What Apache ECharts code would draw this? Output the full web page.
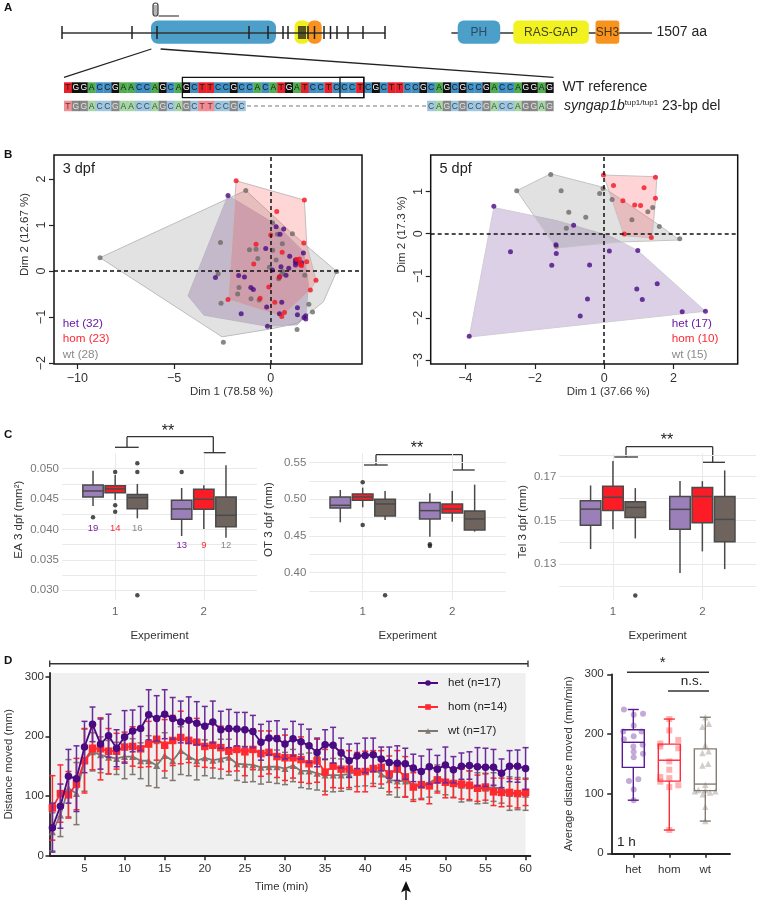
<!DOCTYPE html>
<html>
<head>
<meta charset="utf-8">
<style>html,body{margin:0;padding:0;background:#fff}#c{width:758px;height:903px}</style>
<script src="https://cdn.jsdelivr.net/npm/echarts@6/dist/echarts.min.js"></script>
</head>
<body>
<div id="c"></div>
<script>
// ---------- panel A sequences ----------
const seqWT  = "TGGACCGAACCAGCAGCTTCCGCCACATGATCCTCCCTCGCTTCCGCAGCGCCGACCAGGAG";
const seqDelLeft = "TGGACCGAACCAGCAGCTTCCGC";
const seqDelRight = "CAGCGCCGACCAGGAG";
const exonTicks = [62,132,157,249,268,283,288,299,301,303,305,308,314.5,324,330.5,337,348,363,385];

// ---------- panel B: 3 dpf ----------
const het3 = [[-2.21,1.64],[.28,.96],[.67,.91],[.48,.80],[-.26,.49],[1.69,.39],[.98,.32],[1.28,.24],[1.60,.18],[1.28,.13],[.53,.09],[.93,.06],[.09,.02],[.79,-.09],[-1.66,-.10],[-1.36,-.13],[-2.86,-.14],[-1.03,-.36],[-.90,-.40],[.57,-.68],[-.21,-.78],[1.38,-.80],[-1.53,-.93],[.45,-.93],[1.38,-.95],[1.81,-.97],[1.81,-1.04],[-.17,-1.20],[.45,-.13],[1.34,.19],[1.72,-1.01],[1.28,.19]];
const hom3 = [[-1.79,1.96],[1.74,1.54],[.31,1.29],[0,.78],[1.71,.61],[-.76,.58],[.59,.41],[1.48,.26],[1.34,.25],[1.86,.20],[-.88,.15],[1.60,.12],[2.34,-.20],[.45,-.13],[2.05,-.41],[-.10,-.35],[-2.21,-.62],[-.55,-.59],[.21,-.68],[.71,-.90],[.57,-.99],[1.52,.17],[1.55,.13]];
const wt3 = [[-1.29,1.75],[.09,1.05],[1.12,.81],[.34,.80],[-2.60,.62],[.60,.59],[-1.10,.46],[-.76,.47],[.10,.45],[-.67,.27],[.28,.24],[-.07,.08],[.62,-.01],[.57,-.07],[-2.72,-.06],[1.76,-.09],[3.41,-.01],[.41,-.17],[-1.64,-.36],[-1.71,-.50],[-1.02,-.60],[-.60,-.63],[-2.57,-.70],[1.97,-.72],[2.16,-.89],[1.36,-1.27],[-2.45,-1.55],[-8.83,.29]];
const hullWt3 = [[-8.83,.29],[-1.29,1.75],[1.12,.81],[3.41,-.01],[2.72,-.67],[1.34,-1.14],[-.03,-1.26],[-2.52,-1.43]];
const hullHet3 = [[-2.21,1.64],[.31,1.0],[1.69,.42],[1.95,-.30],[1.81,-.99],[1.36,-1.17],[-.17,-1.20],[-3.45,-.96],[-4.28,-.54]];
const hullHom3 = [[-1.79,1.96],[1.74,1.54],[1.86,.57],[2.34,-.20],[2.05,-.41],[.57,-.99],[-2.21,-.62]];

// ---------- panel B: 5 dpf ----------
const het5 = [[-3.18,.65],[-.88,.20],[-1.39,-.26],[-2.70,-.43],[-1.38,-.47],[.15,-.41],[.97,-.40],[-1.51,-.75],[-.42,-.74],[1.53,-1.19],[.94,-1.31],[1.10,-1.56],[-.48,-1.55],[-.69,-1.95],[2.25,-1.85],[2.92,-1.84],[-3.89,-2.43]];
const hom5 = [[-.02,1.39],[1.48,1.34],[.27,1.14],[1.15,1.09],[1.48,.84],[.54,.78],[.88,.68],[1.05,.67],[.58,-.01],[1.36,-.09]];
const wt5 = [[-1.54,1.40],[-2.52,1.02],[-1.24,1.02],[-.03,1.07],[-.13,.95],[.23,.81],[-1.02,.51],[-.53,.39],[1.40,.62],[1.26,.52],[.80,.33],[1.59,.17],[-1.09,.13],[2.18,-.12],[-1.38,-.30]];
const hullHet5 = [[-3.18,.62],[-1.38,.31],[.15,-.05],[.97,-.40],[2.92,-1.84],[-3.89,-2.45]];
const hullHom5 = [[-.02,1.39],[1.52,1.35],[1.48,.80],[1.38,-.10],[.58,-.05]];
const hullWt5 = [[-1.54,1.42],[-.03,1.10],[1.59,.2],[2.18,-.15],[.4,-.2],[-1.38,-.34],[-2.52,1.02]];

// ---------- panel C: [x, low, q1, median, q3, high] per genotype ----------
const eaHet = [[.75,.04386,.04534,.04633,.04731,.04967],[1.75,.03893,.04167,.04337,.04479,.04682]];
const eaHom = [[1,.04485,.04605,.04666,.04720,.04896],[2,.04008,.04331,.04496,.0466,.04726]];
const eaWt  = [[1.25,.04183,.04342,.04523,.04573,.04748],[2.25,.03866,.04046,.04233,.04534,.05055]];
const eaOut = [[.75,.0420],[1,.04945],[1,.04397],[1,.04293],[1.25,.05088],[1.25,.04945],[1.25,.02918],[1.75,.04945]];
const eaCounts = [[.75,.0402,19],[1,.0402,14],[1.25,.0402,16],[1.75,.03734,13],[2,.03734,9],[2.25,.03734,12]];
const otHet = [[.75,.4686,.4882,.4918,.5032,.5127],[1.75,.4491,.4732,.4845,.4955,.5082]];
const otHom = [[1,.4891,.4986,.5032,.5073,.5159],[2,.4695,.4814,.4868,.4936,.5114]];
const otWt  = [[1.25,.4718,.4773,.4936,.5000,.5114],[2.25,.4559,.4582,.4732,.4841,.5200]];
const otOut = [[1,.5232],[1,.4650],[1.25,.3691],[1.75,.4386],[1.75,.4364]];
const telHet = [[.75,.1370,.1478,.1552,.1590,.1660],[1.75,.1260,.1460,.1551,.1610,.1680]];
const telHom = [[1,.1460,.1546,.1606,.1656,.1772],[2,.1359,.1490,.1610,.1651,.1680]];
const telWt  = [[1.25,.1418,.1514,.1560,.1586,.1648],[2.25,.1278,.1403,.1505,.1610,.1729]];
const telOut = [[1.25,.1158]];

// ---------- panel D: time course ----------
const hetMean = [47,83,133,129,182,220,187,201,180,199,209,213,236,230,237,230,224,227,222,217,224,211,213,212,211,208,190,197,196,187,196,191,184,173,186,185,172,159,167,168,169,162,156,155,154,147,141,149,145,152,144,150,151,149,148,148,138,150,150,146];
const hetErr  = [41,37,45,55,43,29,42,36,31,44,35,37,42,38,41,35,35,39,36,33,35,31,32,28,29,27,30,28,30,25,29,29,28,24,25,30,25,28,21,29,28,20,26,29,26,23,26,29,23,30,22,22,23,32,32,30,24,26,27,35];
const homMean = [80,104,102,120,159,180,179,175,175,182,183,179,187,195,185,193,198,193,190,183,185,181,175,178,174,178,171,173,166,164,164,161,154,159,140,150,145,145,140,141,146,148,137,145,132,115,119,117,127,123,121,120,118,113,115,107,106,106,104,106];
const homErr  = [54,48,39,43,54,36,52,38,30,25,33,31,38,35,43,42,44,37,40,35,38,36,34,36,40,34,38,36,35,38,34,38,33,36,38,36,32,31,33,34,30,28,30,31,34,24,25,30,22,26,24,25,24,22,22,23,24,23,24,22];
const wtMean  = [40,68,113,104,160,174,169,165,163,166,166,159,159,151,168,159,176,166,159,164,160,162,165,154,153,152,148,149,149,146,151,142,142,138,135,135,135,137,141,142,145,137,127,125,125,118,118,122,130,126,122,118,117,113,113,115,112,104,104,103];
const wtErr   = [32,36,48,52,52,32,30,28,27,37,30,30,42,37,38,33,40,32,32,30,30,33,30,28,30,28,28,26,28,27,27,28,30,28,27,28,27,26,25,25,24,24,25,27,26,24,22,24,22,24,24,28,25,26,25,24,24,28,27,27];
const minutes = hetMean.map((_, i) => i + 1);

// ---------- panel D: average distance ----------
const avgHet = [[1,89,144,186,207,241]];
const avgHom = [[2,39,121,156,183,225]];
const avgWt  = [[3,54,105,116,175,228]];
const avgHetPts = [[.74,241],[1.01,232],[1.27,234],[1.01,214],[.72,204],[1.23,204],[1.01,196],[.74,191],[1,179],[1.26,182],[1.01,170],[1.27,167],[1.01,161],[.88,121],[1.14,124],[1.01,107],[1.01,89]];
const avgHomPts = [[2,225],[2,206],[1.75,184],[2.25,190],[2.25,176],[2,154],[1.75,179],[2,140],[2,126],[1.75,120],[2.25,114],[2,111],[1.75,128],[2,39]];
const avgWtPts = [[2.92,212],[3.10,217],[3,228],[3,181],[2.92,168],[3.09,171],[2.92,147],[3.08,150],[3,115],[2.71,104],[3.28,104],[2.81,106],[3,106],[2.93,99],[3.13,102],[3,78],[3,54]];
const avgNames = ['het','hom','wt'];

// ---------- colours ----------
const FONT = 'Liberation Sans';
const PURPLE = '#4a0a82', RED = '#fb1c2a', GREY = '#6f6a66';
const grids = [], xAxes = [], yAxes = [], series = [], graphic = [];

function addGrid(left, top, right, bottom, extra) {
  grids.push(Object.assign({left, top, width: right - left, height: bottom - top, containLabel: false, outerBoundsMode: 'none'}, extra || {}));
  return grids.length - 1;
}
function hullSeries(g, pts, fill, stroke) {
  series.push({type: 'custom', xAxisIndex: g, yAxisIndex: g, silent: true, clip: false, z: 2,
    data: [pts[0]], encode: {x: 0, y: 1},
    renderItem: (p, api) => ({type: 'polygon', shape: {points: pts.map(q => api.coord(q))},
      style: {fill, stroke, lineWidth: 1}})});
}
function dots(g, data, color, size, extra) {
  series.push(Object.assign({type: 'scatter', xAxisIndex: g, yAxisIndex: g, data, symbolSize: size, silent: true,
    itemStyle: {color}, z: 4}, extra || {}));
}
function pcaPanel(box, title, xr, yr, xt, yt, xn, yn) {
  const g = addGrid(box[0], box[1], box[2], box[3], {show: true, borderColor: '#111', borderWidth: 1.5, backgroundColor: 'transparent'});
  const fmt = v => String(v).replace('-', '\u2212');
  xAxes.push({gridIndex: g, type: 'value', min: xr[0], max: xr[1], splitLine: {show: false}, axisLine: {show: false, onZero: false},
    axisTick: {length: 5, lineStyle: {color: '#222', width: 1.2}, customValues: xt},
    axisLabel: {customValues: xt, formatter: fmt, fontFamily: FONT, fontSize: 12.5, color: '#333', margin: 8},
    name: xn[0], nameLocation: 'middle', nameGap: 19, nameTextStyle: {fontFamily: FONT, fontSize: 11.5, color: '#333', padding: xn[1]}});
  yAxes.push({gridIndex: g, type: 'value', min: yr[0], max: yr[1], splitLine: {show: false}, axisLine: {show: false, onZero: false},
    axisTick: {length: 5, lineStyle: {color: '#222', width: 1.2}, customValues: yt},
    axisLabel: {customValues: yt, formatter: fmt, rotate: 90, fontFamily: FONT, fontSize: 12.5, color: '#333', margin: 6},
    name: yn[0], nameLocation: 'middle', nameGap: 23, nameTextStyle: {fontFamily: FONT, fontSize: 11.5, color: '#333', padding: yn[1]}});
  return g;
}
const gB1 = pcaPanel([54,155,362,364], '3 dpf', [-11.21,4.72], [-2.02,2.52], [-10,-5,0], [-2,-1,0,1,2], ['Dim 1 (78.58 %)',[0,0,0,47]], ['Dim 2 (12.67 %)',[0,0,0,50]]);
hullSeries(gB1, hullWt3, 'rgba(150,150,150,.28)', '#bdbdbd');
hullSeries(gB1, hullHet3, 'rgba(85,40,125,.22)', '#bdb7c2');
hullSeries(gB1, hullHom3, 'rgba(255,50,50,.2)', '#c4bcbc');
dots(gB1, wt3, '#6d6966', 5); dots(gB1, het3, PURPLE, 5); dots(gB1, hom3, '#f3141f', 5, {
  markLine: {silent: true, symbol: 'none', label: {show: false}, animation: false, z: 5,
    lineStyle: {color: '#111', type: [4,3], width: 1.5}, data: [{xAxis: 0}, {yAxis: 0}]}});
const gB2 = pcaPanel([430.7,155,737.7,364], '5 dpf', [-5.0,3.85], [-3.09,1.865], [-4,-2,0,2], [-3,-2,-1,0,1], ['Dim 1 (37.66 %)',[0,0,0,48]], ['Dim 2 (17.3 %)',[0,0,0,50]]);
hullSeries(gB2, hullHet5, 'rgba(90,40,140,.22)', '#d2cdd6');
hullSeries(gB2, hullWt5, 'rgba(120,120,120,.22)', '#c4c4c4');
hullSeries(gB2, hullHom5, 'rgba(255,40,50,.2)', '#c9c0c0');
dots(gB2, wt5, '#6d6966', 5); dots(gB2, het5, PURPLE, 5); dots(gB2, hom5, '#f3141f', 5, {
  markLine: {silent: true, symbol: 'none', label: {show: false}, animation: false, z: 5,
    lineStyle: {color: '#111', type: [4,3], width: 1.5}, data: [{xAxis: 0}, {yAxis: 0}]}});

// ---------- box series (C panels and D right) ----------
function boxSeries(g, rows, opt) {
  series.push({type: 'custom', xAxisIndex: g, yAxisIndex: g, silent: true, z: 3, clip: false, data: rows,
    encode: {x: 0, y: [1,2,3,4,5]},
    renderItem: (p, api) => {
      const x = api.value(0), c = k => api.coord([x, api.value(k)]);
      const l = c(1), a = c(2), m = c(3), b = c(4), h = c(5);
      const hw = api.size([opt.width, 0])[0] / 2;
      const ln = (x1,y1,x2,y2,w) => ({type: 'line', shape: {x1,y1,x2,y2}, style: {stroke: opt.stroke, lineWidth: w || opt.lw}});
      const kids = [ln(l[0],l[1],a[0],a[1]), ln(h[0],h[1],b[0],b[1]),
        {type: 'rect', shape: {x: a[0]-hw, y: b[1], width: 2*hw, height: a[1]-b[1]},
         style: {fill: opt.fill, stroke: opt.stroke, lineWidth: opt.lw}},
        ln(m[0]-hw,m[1],m[0]+hw,m[1])];
      if (opt.cap) kids.push(ln(l[0]-opt.cap,l[1],l[0]+opt.cap,l[1]), ln(h[0]-opt.cap,h[1],h[0]+opt.cap,h[1]));
      return {type: 'group', children: kids};
    }});
}
function minimalPanel(box, xr, yr, minor, major, yName, yShift, yGap, labelPad) {
  const g = addGrid(box[0], box[1], box[2], box[3]);
  const line = {show: true, lineStyle: {color: '#e9e9e9', width: 1}};
  xAxes.push({gridIndex: g, type: 'value', min: xr[0], max: xr[1], axisLine: {show: false, onZero: false},
    axisTick: {show: false, customValues: [1,2]}, splitLine: line,
    axisLabel: {customValues: [1,2], fontFamily: FONT, fontSize: 11.5, color: '#666', margin: 6},
    name: 'Experiment', nameLocation: 'middle', nameGap: 30, nameTextStyle: {fontFamily: FONT, fontSize: 11.5, color: '#333'}});
  yAxes.push({gridIndex: g, type: 'value', min: yr[0], max: yr[1], axisLine: {show: false, onZero: false},
    axisTick: {show: false, customValues: minor}, splitLine: line,
    axisLabel: {customValues: major, formatter: labelPad.fmt, fontFamily: FONT, fontSize: 11.5, color: '#777', margin: 3, padding: [0,0,labelPad.pad,0]},
    name: yName, nameLocation: 'middle', nameGap: yGap, nameTextStyle: {fontFamily: FONT, fontSize: 11.5, color: '#333', padding: yShift}});
  return g;
}
const cFill = ['#9a7fb9', '#fb1c26', '#6e635d'];
function cBoxes(g, het, hom, wt, out) {
  [het, hom, wt].forEach((rows, i) => boxSeries(g, rows, {width: .23, fill: cFill[i], stroke: '#4a4a4a', lw: 1.5}));
  dots(g, out, '#222', 4.5);
}
const gC1 = minimalPanel([62,453.3,257,600], [.4,2.6], [.02841,.05252],
  [.03,.0325,.035,.0375,.04,.0425,.045,.0475,.05], [.03,.035,.04,.045,.05],
  'EA 3 dpf (mm\u00B2)', [0,0,0,14], 37, {pad: 5, fmt: v => v.toFixed(3)});
cBoxes(gC1, eaHet, eaHom, eaWt, eaOut);
series.push({type: 'custom', xAxisIndex: gC1, yAxisIndex: gC1, silent: true, z: 5, data: eaCounts, encode: {x: 0, y: 1},
  renderItem: (p, api) => { const c = api.coord([api.value(0), api.value(1)]);
    return {type: 'text', style: {x: c[0], y: c[1], text: String(api.value(2)), align: 'center', verticalAlign: 'middle',
      fontFamily: FONT, fontSize: 9.5, fill: ['#7a1fa2','#fb2a35','#888'][p.dataIndex % 3]}}; }});
const gC2 = minimalPanel([309.3,453.3,506,600], [.404,2.6], [.3627,.5627],
  [.375,.4,.425,.45,.475,.5,.525,.55], [.4,.45,.5,.55],
  'OT 3 dpf (mm)', [0,0,0,14], 34, {pad: 5, fmt: v => v.toFixed(2)});
cBoxes(gC2, otHet, otHom, otWt, otOut);
const gC3 = minimalPanel([559.3,453.3,756,600], [.4,2.6], [.1137,.1807],
  [.12,.13,.14,.15,.16,.17,.18], [.13,.15,.17],
  'Tel 3 dpf (mm)', [0,0,0,10], 30, {pad: 6, fmt: v => v.toFixed(2)});
cBoxes(gC3, telHet, telHom, telWt, telOut);

// ---------- D line panel ----------
const gD = addGrid(50, 673, 530.4, 855.7);
const dAxisLine = {show: true, onZero: false, lineStyle: {color: '#222', width: 1.8}};
const dTick = {length: 4.5, lineStyle: {color: '#222', width: 1.5}};
xAxes.push({gridIndex: gD, type: 'value', min: .7, max: 60.6, splitLine: {show: false}, axisLine: dAxisLine,
  axisTick: Object.assign({customValues: [5,10,15,20,25,30,35,40,45,50,55,60]}, dTick),
  axisLabel: {customValues: [5,10,15,20,25,30,35,40,45,50,55,60], fontFamily: FONT, fontSize: 11.5, color: '#333', margin: 7}});
yAxes.push({gridIndex: gD, type: 'value', min: 0, max: 306, splitLine: {show: false}, axisLine: dAxisLine,
  axisTick: Object.assign({customValues: [0,100,200,300]}, dTick),
  axisLabel: {customValues: [0,100,200,300], fontFamily: FONT, fontSize: 11.5, color: '#333', margin: 6},
  name: 'Distance moved (mm)', nameLocation: 'middle', nameGap: 31, nameTextStyle: {fontFamily: FONT, fontSize: 11.3, color: '#333', padding: [0,0,0,0]}});
series.push({type: 'custom', xAxisIndex: gD, yAxisIndex: gD, silent: true, z: 0, data: [[.7,0]], encode: {x: 0, y: 1},
  renderItem: (p, api) => { const a = api.coord([.7,306]), b = api.coord([60,0]);
    return {type: 'rect', shape: {x: a[0], y: a[1], width: b[0]-a[0], height: b[1]-a[1]}, style: {fill: '#f0f0f0'}}; }});
function errSeries(mean, err, color, z) {
  series.push({type: 'custom', xAxisIndex: gD, yAxisIndex: gD, silent: true, z, clip: false,
    data: minutes.map((m, i) => [m, mean[i]-err[i], mean[i]+err[i]]), encode: {x: 0, y: [1,2]},
    renderItem: (p, api) => {
      const a = api.coord([api.value(0), api.value(1)]), b = api.coord([api.value(0), api.value(2)]);
      const st = {stroke: color, lineWidth: 1.5};
      return {type: 'group', children: [
        {type: 'line', shape: {x1: a[0], y1: a[1], x2: b[0], y2: b[1]}, style: st},
        {type: 'line', shape: {x1: a[0]-3, y1: a[1], x2: a[0]+3, y2: a[1]}, style: st},
        {type: 'line', shape: {x1: b[0]-3, y1: b[1], x2: b[0]+3, y2: b[1]}, style: st}]};
    }});
}
function meanLine(name, mean, color, symbol, size, z) {
  series.push({type: 'line', name, xAxisIndex: gD, yAxisIndex: gD, silent: true, z, symbol, symbolSize: size, showSymbol: true,
    data: minutes.map((m, i) => [m, mean[i]]), lineStyle: {color, width: 1.8}, itemStyle: {color}});
}
errSeries(wtMean, wtErr, '#7f7870', 3); meanLine('wt (n=17)', wtMean, '#7f7870', 'triangle', 7, 4);
errSeries(homMean, homErr, '#ff2a30', 5); meanLine('hom (n=14)', homMean, '#ff2a30', 'rect', 7.5, 6);
errSeries(hetMean, hetErr, '#6a2a9c', 7); meanLine('het (n=17)', hetMean, '#4a0a82', 'circle', 7.5, 8);

// ---------- D average panel ----------
const gE = addGrid(611.7, 674.3, 730, 853.3);
xAxes.push({gridIndex: gE, type: 'value', min: .4, max: 3.686, splitLine: {show: false}, axisLine: dAxisLine,
  axisTick: Object.assign({customValues: [1,2,3]}, dTick),
  axisLabel: {customValues: [1,2,3], formatter: v => avgNames[v-1], fontFamily: FONT, fontSize: 11.5, color: '#333', margin: 11}});
yAxes.push({gridIndex: gE, type: 'value', min: 0, max: 300, splitLine: {show: false}, axisLine: dAxisLine,
  axisTick: Object.assign({customValues: [0,100,200,300]}, dTick),
  axisLabel: {customValues: [0,100,200,300], fontFamily: FONT, fontSize: 11.5, color: '#333', margin: 8},
  name: 'Average distance moved (mm/min)', nameLocation: 'middle', nameGap: 37, nameTextStyle: {fontFamily: FONT, fontSize: 11.3, color: '#333'}});
dots(gE, avgHetPts, 'rgba(106,42,156,.5)', 6);
dots(gE, avgHomPts, 'rgba(255,42,48,.45)', 6, {symbol: 'rect'});
dots(gE, avgWtPts, 'rgba(127,120,112,.45)', 6.5, {symbol: 'triangle'});
boxSeries(gE, avgHet, {width: .61, fill: 'transparent', stroke: '#5a1a94', lw: 1.4, cap: 5.5});
boxSeries(gE, avgHom, {width: .61, fill: 'transparent', stroke: '#ff2a38', lw: 1.4, cap: 5.5});
boxSeries(gE, avgWt, {width: .61, fill: 'transparent', stroke: '#857d75', lw: 1.4, cap: 5.5});

// ---------- annotations ----------
function gl(x1, y1, x2, y2, color, w) {
  graphic.push({type: 'line', silent: true, shape: {x1,y1,x2,y2}, style: {stroke: color || '#222', lineWidth: w || 1.3}});
}
function gt(x, y, text, size, opt) {
  graphic.push({type: 'text', silent: true, x, y, rotation: (opt && opt.rot) || 0, style: Object.assign({text, fontFamily: FONT, fontSize: size,
    fill: '#222', align: 'left', verticalAlign: 'middle'}, opt && opt.style)});
}
function grect(x, y, w, h, fill, r) {
  graphic.push({type: 'rect', silent: true, shape: {x, y, width: w, height: h, r: r || 0}, style: {fill}});
}
// panel letters
[['A',7,8],['B',7,155],['C',7,435],['D',7,661]].forEach(a => gt(a[1]-3, a[2], a[0], 11.5, {style: {fontWeight: 'bold', fill: '#111'}}));
// gene model
grect(151,20.5,125,23.2,'#4b9fc9',7);
grect(294.6,20.5,15,23.2,'#f2ef1f',6);
grect(307.7,20.5,14,23.2,'#f7931e',6);
gl(62,33,385,33,'#333',1.3);
exonTicks.forEach(x => gl(x,26,x,39,'#222',1.5));
gl(158.5,16,179,16,'#444',1.2);
graphic.push({type: 'rect', silent: true, shape: {x: 153, y: 3, width: 5, height: 13, r: 2.5}, style: {fill: '#fff', stroke: '#444', lineWidth: 1.2}});
[6,8,10,12,14].forEach(y => gl(153,y,158,y,'#444',.8));
gl(151.4,49,64,77.3,'#222',1.3);
gl(160.6,49,553.5,77.3,'#222',1.3);
// protein
gl(451.4,33,652,33,'#333',1.5);
grect(457.7,20.5,42.5,23.2,'#4b9fc9',6);
grect(513.3,20.5,75.5,23.2,'#f2f221',5);
grect(595.5,20.5,23.8,23.2,'#f7931e',3);
gt(478.8,32.5,'PH',12,{style:{align:'center',fill:'#2b4d63'}});
gt(551,32.5,'RAS-GAP',12,{style:{align:'center',fill:'#44441a'}});
gt(607.4,32.5,'SH3',12,{style:{align:'center',fill:'#4a3510'}});
gt(656.5,32.5,'1507 aa',14);
// sequences
const baseCol = {T:'#e8202a', G:'#111111', A:'#4fae4f', C:'#3f8fc4'};
const cellW = 489.5 / seqWT.length;
function seqRow(seq, x0, y, h, alpha) {
  [...seq].forEach((b, i) => {
    graphic.push({type: 'rect', silent: true, shape: {x: x0+i*cellW, y, width: cellW+.2, height: h}, style: {fill: baseCol[b], opacity: alpha}});
    graphic.push({type: 'text', silent: true, x: x0+(i+.5)*cellW, y: y+h/2+.3, style: {text: b, fontFamily: FONT, fontSize: 8.5,
      fill: b === 'G' ? '#fff' : '#1a1a1a', align: 'center', verticalAlign: 'middle', opacity: alpha < 1 ? .75 : 1}});
  });
}
seqRow(seqWT, 64, 82.3, 10.7, 1);
seqRow(seqDelLeft, 64, 100.7, 10.5, .5);
seqRow(seqDelRight, 427.1, 100.7, 10.5, .5);
graphic.push({type: 'line', silent: true, shape: {x1: 247, y1: 106, x2: 426, y2: 106}, style: {stroke: '#777', lineWidth: 1, lineDash: [4,3]}});
graphic.push({type: 'rect', silent: true, shape: {x: 182.4, y: 77.3, width: 181.4, height: 20.4}, style: {fill: 'none', stroke: '#111', lineWidth: 1.3}});
graphic.push({type: 'rect', silent: true, shape: {x: 340, y: 77.3, width: 23.8, height: 20.4}, style: {fill: 'none', stroke: '#111', lineWidth: 1.3}});
gt(562.6,87.5,'WT reference',14);
graphic.push({type: 'text', silent: true, x: 564, y: 106, style: {rich: {
  i: {fontFamily: FONT, fontSize: 14, fontStyle: 'italic', fill: '#222'},
  s: {fontFamily: FONT, fontSize: 8, fill: '#222', verticalAlign: 'top', padding: [0,0,6,0]},
  n: {fontFamily: FONT, fontSize: 14, fill: '#222'}},
  text: '{i|syngap1b}{s|tup1/tup1}{n| 23-bp del}', verticalAlign: 'middle'}});
// B text
gt(62.7,169,'3 dpf',14.5); gt(439.5,169,'5 dpf',14.5);
[['het (32)','#6a1aa8',323.3],['hom (23)','#fb2a35',338.3],['wt (28)','#8a8a8a',354.3]].forEach(a => gt(62.7,a[2],a[0],11.7,{style:{fill:a[1]}}));
[['het (17)','#6a1aa8',323.3],['hom (10)','#fb2a35',338.3],['wt (15)','#8a8a8a',354.3]].forEach(a => gt(671.7,a[2],a[0],11.7,{style:{fill:a[1]}}));
// C brackets
function bracket(xt1, xt2, yt, y1, a1, b1, y2, a2, b2, sx, sy) {
  gl(xt1,yt,xt2,yt,'#333',1.3); gl(xt1,yt,xt1,y1,'#333',1.3); gl(a1,y1,b1,y1,'#333',1.3);
  gl(xt2,yt,xt2,y2,'#333',1.3); gl(a2,y2,b2,y2,'#333',1.3);
  gt(sx,sy,'**',16,{style:{align:'center',fill:'#222'}});
}
bracket(127,213.3,436.7,447.3,115,138.7,452.7,203.7,225.7,168,432);
bracket(376,462.3,454.7,465,364,387.7,470,452.7,474.7,417,449);
bracket(626,712.7,446.7,457,614.3,638,462.3,702.7,725,667,441);
// D annotations
gl(49.7,663.7,528,663.7,'#333',1.5); gl(49.7,660.5,49.7,667,'#333',1.3); gl(528,660.5,528,667,'#333',1.3);
gt(281.5,887,'Time (min)',11.3,{style:{align:'center',fill:'#333'}});
gl(406,890,406,900,'#111',1.5);
graphic.push({type: 'polygon', silent: true, shape: {points: [[406,881],[411,892.5],[406,890],[401,892.5]]}, style: {fill: '#111'}});
gl(627,672.3,709,672.3,'#333',1.5); gl(668,691,709,691,'#333',1.5);
gt(662.7,663,'*',15,{style:{align:'center'}});
gt(691.7,681.5,'n.s.',13.5,{style:{align:'center'}});
gt(617,842,'1 h',13.5);

const chart = echarts.init(document.getElementById('c'), null, {renderer: 'canvas'});
chart.setOption({
  animation: false, backgroundColor: '#fff', textStyle: {fontFamily: FONT},
  grid: grids, xAxis: xAxes, yAxis: yAxes, series, graphic,
  legend: {data: ['het (n=17)','hom (n=14)','wt (n=17)'], orient: 'vertical', left: 417, top: 677, padding: 0, itemWidth: 20, itemHeight: 7, itemGap: 12,
    selectedMode: false, textStyle: {fontFamily: FONT, fontSize: 11.5, color: '#222', padding: [0,0,0,5]}}
});
</script>
</body>
</html>
